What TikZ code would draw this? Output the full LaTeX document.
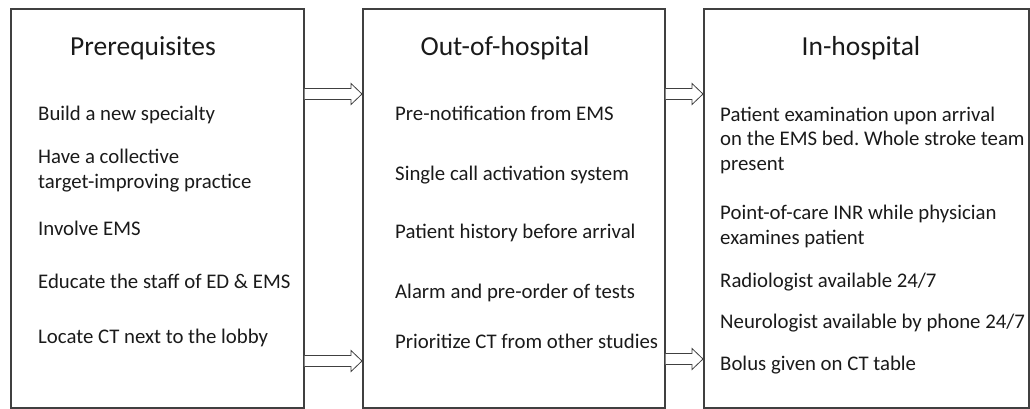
\documentclass[tikz,border=0pt]{standalone}
\usepackage{fontspec}
\setmainfont{Carlito}
\usetikzlibrary{calc}
\definecolor{frameline}{RGB}{64,64,64}
\definecolor{itemtext}{RGB}{26,26,26}

\begin{document}
\begin{tikzpicture}[x=1pt, y=1pt,
 stagebox/.style={draw=frameline, line width=1.5pt, minimum width=#1,
          minimum height=399pt, anchor=north west, inner sep=0pt},
 stagetitle/.style={font=\fontsize{27.5}{32}\selectfont, text=itemtext, anchor=base},
 item/.style={font=\fontsize{20.8}{24.5}\selectfont, text=itemtext,
          anchor=base west, align=left, inner sep=0pt},
 hollowarrow/.style={draw=frameline, line width=0.8pt, fill=white, line join=miter,
          to path={($(\tikztostart)+(0,5.5)$) -- ($(\tikztotarget)+(-11,5.5)$)
            -- ($(\tikztotarget)+(-11,10.5)$) -- (\tikztotarget)
            -- ($(\tikztotarget)+(-11,-10.5)$) -- ($(\tikztotarget)+(-11,-5.5)$)
            -- ($(\tikztostart)+(0,-5.5)$)}}
]
\useasboundingbox (0,0) rectangle (1030,-408);
% The three stages
\node[stagebox=293pt] (pre) at (10,-8) {};
\node[stagebox=302pt] (out) at (362,-8) {};
\node[stagebox=325pt] (inh) at (703,-8) {};
\node[stagetitle] (preT) at (143,-55) {Prerequisites};
\node[stagetitle] (outT) at (505,-55) {Out-of-hospital};
\node[stagetitle] (inhT) at (861,-55) {In-hospital};
% Prerequisites (multi-line items sit on their last baseline)
\node[item] (pre1) at (38,-120) {Build a new specialty};
\node[item] (pre2) at (38,-188) {Have a collective\\target-improving practice};
\node[item] (pre3) at (38,-235) {Involve EMS};
\node[item] (pre4) at (38,-288) {Educate the staff of ED \& EMS};
\node[item] (pre5) at (38,-343) {Locate CT next to the lobby};
% Out-of-hospital
\node[item] (out1) at (395,-120) {Pre-notification from EMS};
\node[item] (out2) at (395,-180) {Single call activation system};
\node[item] (out3) at (395,-238) {Patient history before arrival};
\node[item] (out4) at (395,-298) {Alarm and pre-order of tests};
\node[item] (out5) at (395,-348) {Prioritize CT from other studies};
% In-hospital
\node[item] (inh1) at (720,-170) {Patient examination upon arrival\\on the EMS bed.\ Whole stroke team\\present};
\node[item] (inh2) at (720,-244) {Point-of-care INR while physician\\examines patient};
\node[item] (inh3) at (720,-287) {Radiologist available 24/7};
\node[item] (inh4) at (720,-328) {Neurologist available by phone 24/7};
\node[item] (inh5) at (720,-370) {Bolus given on CT table};
% Block arrows between the stages
\coordinate (a1s) at (pre.east |- 0,-94);
\coordinate (a1e) at (out.west |- 0,-94);
\coordinate (a2s) at (pre.east |- 0,-361);
\coordinate (a2e) at (out.west |- 0,-361);
\coordinate (a3s) at (out.east |- 0,-94);
\coordinate (a3e) at (inh.west |- 0,-94);
\coordinate (a4s) at (out.east |- 0,-359);
\coordinate (a4e) at (inh.west |- 0,-359);
\draw[hollowarrow] (a1s) to (a1e);
\draw[hollowarrow] (a2s) to (a2e);
\draw[hollowarrow] (a3s) to (a3e);
\draw[hollowarrow] (a4s) to (a4e);
\end{tikzpicture}
\end{document}
